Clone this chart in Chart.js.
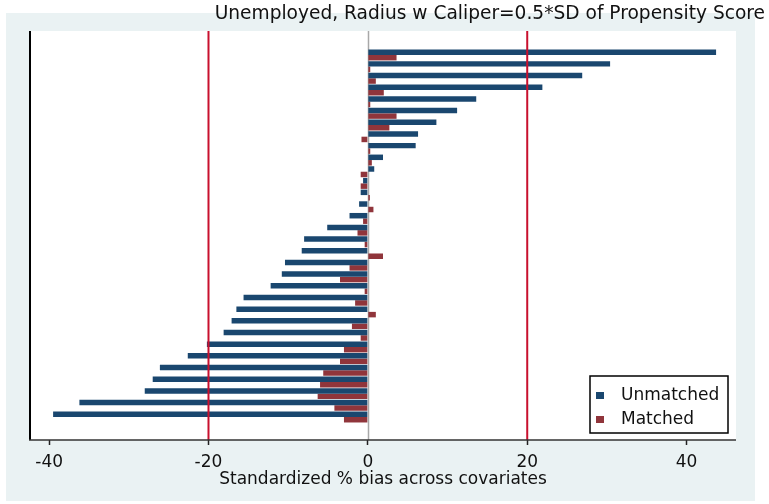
<!DOCTYPE html>
<html>
<head>
<meta charset="utf-8">
<script src="https://cdn.jsdelivr.net/npm/chart.js@4.4.1/dist/chart.umd.min.js"></script>
<style>
  html, body { margin: 0; padding: 0; background: #ffffff; }
  #wrap { width: 769px; height: 504px; }
</style>
</head>
<body>
<div id="wrap"><canvas id="biasChart"></canvas></div>
<script>
// --- DATA: standardized % bias per covariate, sorted by unmatched bias ---
const covariates = [
    "v01", "v02", "v03", "v04", "v05", "v06", "v07", "v08",
    "v09", "v10", "v11", "v12", "v13", "v14", "v15", "v16",
    "v17", "v18", "v19", "v20", "v21", "v22", "v23", "v24",
    "v25", "v26", "v27", "v28", "v29", "v30", "v31", "v32"
];
const unmatched = [
    43.7, 30.4, 26.9, 21.9, 13.6, 11.2, 8.6, 6.3,
    6.0, 1.9, 0.8, -0.6, -0.9, -1.1, -2.3, -5.1,
    -8.0, -8.3, -10.4, -10.8, -12.2, -15.6, -16.5, -17.1,
    -18.1, -20.2, -22.6, -26.1, -27.0, -28.0, -36.2, -39.5
];
const matched = [
    3.6, 0.3, 1.0, 2.0, 0.3, 3.6, 2.7, -0.8,
    0.3, 0.5, -0.9, -0.9, 0.25, 0.7, -0.6, -1.3,
    -0.4, 1.9, -2.3, -3.5, -0.4, -1.6, 1.0, -2.0,
    -0.9, -3.0, -3.5, -5.6, -6.0, -6.3, -4.2, -3.0
];
const xTicks = [-40, -20, 0, 20, 40];
const refLines = [-20, 20];

const TITLE = "Unemployed, Radius w Caliper=0.5*SD of Propensity Score";
const X_TITLE = "Standardized % bias across covariates";

const NAVY = "#1a476f";
const MAROON = "#90353b";
const BAND = "#eaf2f3";
const FONT = "'DejaVu Sans', 'Liberation Sans', Arial, sans-serif";

// one row per covariate; the index axis is linear so the rows can sit inset from the frame
const toRows = vals => vals.map((v, i) => ({ x: v, y: i }));

// background band, reference lines, axis lines, title and legend box
const frame = {
    id: "frame",
    beforeDraw(chart) {
        const { ctx, chartArea: a } = chart;
        ctx.save();
        ctx.fillStyle = "#ffffff";
        ctx.fillRect(0, 0, chart.width, chart.height);
        ctx.fillStyle = BAND;
        ctx.fillRect(6, 13, 749, 488);
        ctx.fillStyle = "#ffffff";
        ctx.fillRect(a.left, a.top, a.right - a.left, a.bottom - a.top);
        ctx.restore();
    },
    beforeDatasetsDraw(chart) {
        const { ctx, chartArea: a, scales } = chart;
        const x0 = Math.round(scales.x.getPixelForValue(0)) + 0.5;
        ctx.save();
        ctx.strokeStyle = "#a8a8a8";
        ctx.lineWidth = 1.5;
        ctx.beginPath();
        ctx.moveTo(x0, a.top);
        ctx.lineTo(x0, a.bottom);
        ctx.stroke();
        ctx.restore();
    },
    afterDatasetsDraw(chart) {
        const { ctx, chartArea: a, scales } = chart;
        ctx.save();
        ctx.strokeStyle = "#c8102e";
        ctx.lineWidth = 2;
        refLines.forEach(v => {
            const px = scales.x.getPixelForValue(v);
            ctx.beginPath();
            ctx.moveTo(px, a.top);
            ctx.lineTo(px, a.bottom);
            ctx.stroke();
        });
        // axis lines
        ctx.strokeStyle = "#000000";
        ctx.lineWidth = 2;
        ctx.beginPath();
        ctx.moveTo(a.left, a.top);
        ctx.lineTo(a.left, a.bottom);
        ctx.stroke();
        ctx.strokeStyle = "#333333";
        ctx.lineWidth = 1.5;
        ctx.beginPath();
        ctx.moveTo(a.left - 1, a.bottom);
        ctx.lineTo(a.right, a.bottom);
        ctx.stroke();
        ctx.restore();
    },
    afterDraw(chart) {
        const { ctx } = chart;
        ctx.save();
        // title, right aligned
        ctx.fillStyle = "#111111";
        ctx.font = "18.6px " + FONT;
        ctx.textAlign = "right";
        ctx.textBaseline = "middle";
        ctx.fillText(TITLE, 765, 14);

        // legend box in the lower right of the plot
        const bx = 590, by = 376, bw = 138, bh = 57;
        ctx.fillStyle = "#ffffff";
        ctx.fillRect(bx, by, bw, bh);
        ctx.strokeStyle = "#000000";
        ctx.lineWidth = 1.5;
        ctx.strokeRect(bx, by, bw, bh);
        ctx.font = "17px " + FONT;
        ctx.textAlign = "left";
        chart.data.datasets.forEach((ds, i) => {
            const cy = by + 19 + i * 24;
            ctx.fillStyle = ds.backgroundColor;
            ctx.fillRect(bx + 6, cy - 3, 8, 7);
            ctx.fillStyle = "#111111";
            ctx.fillText(ds.label, bx + 31, cy + 1);
        });
        ctx.restore();
    }
};

new Chart(document.getElementById("biasChart"), {
    type: "bar",
    data: {
        datasets: [
            { label: "Unmatched", data: toRows(unmatched), backgroundColor: NAVY, borderWidth: 0 },
            { label: "Matched", data: toRows(matched), backgroundColor: MAROON, borderWidth: 0 }
        ]
    },
    options: {
        indexAxis: "y",
        responsive: true,
        maintainAspectRatio: false,
        animation: false,
        categoryPercentage: 0.94,
        barPercentage: 1.0,
        layout: { padding: { left: 30, right: 33, top: 31, bottom: 0 } },
        scales: {
            y: {
                type: "linear",
                display: false,
                offset: false,
                reverse: true,
                min: -2.05,
                max: covariates.length + 0.97
            },
            x: {
                type: "linear",
                position: "bottom",
                min: -42.4,
                max: 46.2,
                afterBuildTicks: scale => { scale.ticks = xTicks.map(v => ({ value: v })); },
                afterFit: scale => { scale.height = 64; },
                grid: {
                    display: true,
                    drawOnChartArea: false,
                    drawTicks: true,
                    tickLength: 5,
                    tickColor: "#222222",
                    tickWidth: 1.5
                },
                border: { display: false },
                ticks: {
                    color: "#111111",
                    padding: 7,
                    maxRotation: 0,
                    font: { family: FONT, size: 17 }
                },
                title: {
                    display: true,
                    text: X_TITLE,
                    color: "#111111",
                    padding: { top: 0, bottom: 14 },
                    font: { family: FONT, size: 17 }
                }
            }
        },
        plugins: {
            legend: { display: false },
            tooltip: { enabled: false }
        }
    },
    plugins: [frame]
});
</script>
</body>
</html>
